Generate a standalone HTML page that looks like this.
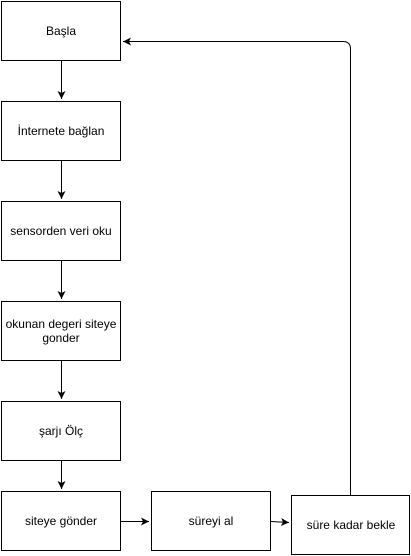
<!DOCTYPE html>
<html><head><meta charset="utf-8"><style>
html,body{margin:0;padding:0;background:#fff;}
svg{display:block;}
text{font-family:"Liberation Sans",Arial,sans-serif;font-size:12px;fill:#000;}
</style></head><body>
<svg width="411" height="556" viewBox="0 0 411 556" xmlns="http://www.w3.org/2000/svg">
<defs><marker id="a" markerWidth="10" markerHeight="10" refX="8" refY="5" orient="auto" markerUnits="userSpaceOnUse"><path d="M0,1 L8,5 L0,9 L2,5 Z" fill="#000"/></marker></defs>
<g fill="#fff" stroke="#000" stroke-width="1">
<rect x="1.5" y="1.5" width="119" height="59"/>
<rect x="1.5" y="101.5" width="119" height="59"/>
<rect x="1.5" y="201.5" width="119" height="59"/>
<rect x="1.5" y="301.5" width="119" height="59"/>
<rect x="1.5" y="401.5" width="119" height="59"/>
<rect x="1.5" y="491.5" width="119" height="59"/>
<rect x="151.5" y="491.5" width="119" height="59"/>
<rect x="291.5" y="495.5" width="118" height="59"/>
</g>
<g stroke="#000" stroke-width="1" fill="none">
<line x1="61.5" y1="61" x2="61.5" y2="99" marker-end="url(#a)"/>
<line x1="61.5" y1="161" x2="61.5" y2="199" marker-end="url(#a)"/>
<line x1="61.5" y1="261" x2="61.5" y2="299" marker-end="url(#a)"/>
<line x1="61.5" y1="361" x2="61.5" y2="399" marker-end="url(#a)"/>
<line x1="61.5" y1="461" x2="61.5" y2="489" marker-end="url(#a)"/>
<line x1="121" y1="521.5" x2="149" y2="521.5" marker-end="url(#a)"/>
<line x1="271" y1="521.5" x2="289" y2="522.5" marker-end="url(#a)"/>
<path d="M350.5,495 L350.5,49 Q350.5,41.5 343,41.5 L123,41.5" marker-end="url(#a)"/>
</g>
<g text-anchor="middle">
<text x="61" y="35">Başla</text>
<text x="61" y="135">İnternete bağlan</text>
<text x="61" y="235">sensorden veri oku</text>
<text x="61" y="328">okunan degeri siteye</text>
<text x="61" y="342">gonder</text>
<text x="61" y="435">şarjı Ölç</text>
<text x="61" y="525">siteye gönder</text>
<text x="211" y="525">süreyi al</text>
<text x="351" y="529">süre kadar bekle</text>
</g>
</svg>
</body></html>
